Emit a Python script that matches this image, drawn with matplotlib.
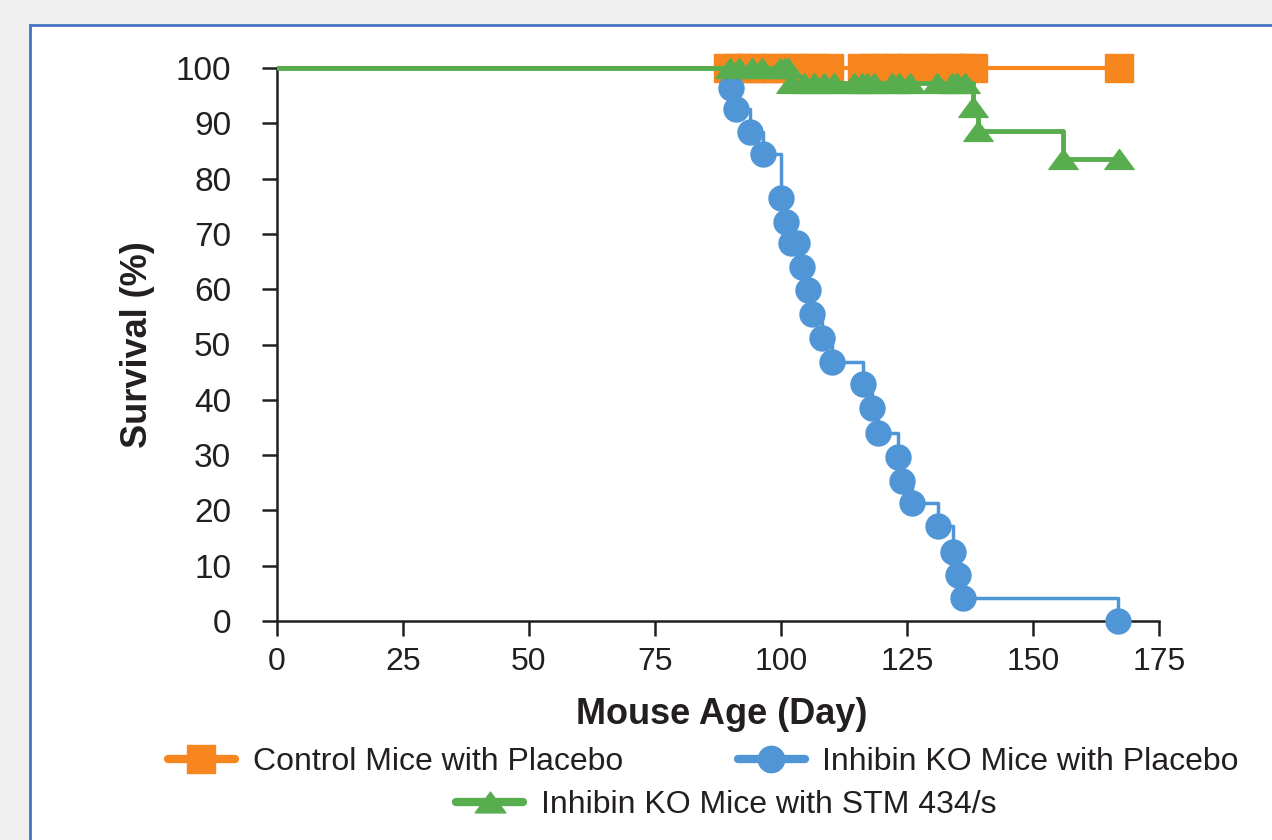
import matplotlib.pyplot as plt
from matplotlib.lines import Line2D
from matplotlib.patches import Rectangle
from matplotlib.path import Path

plt.rcParams['font.family'] = ['Liberation Sans', 'DejaVu Sans']

# survival data (day, % surviving)
control_days = [89.5, 91.5, 94, 96.5, 99, 101.5, 104, 106.5, 109.5, 116, 118.5, 121,
                123.5, 126, 128.5, 131, 133.5, 136, 138, 167]
control_surv = [100] * 20

ko_days = [90.1, 91.1, 93.8, 96.4, 100.0, 101.0, 102.0, 103.2, 104.2, 105.4, 106.2, 108.1,
           110.1, 116.3, 118.1, 119.2, 123.2, 124.0, 126.0, 131.2, 134.1, 135.1, 136.1, 166.9]
ko_surv = [96.4, 92.6, 88.4, 84.4, 76.5, 72.2, 68.4, 68.4, 64.0, 59.9, 55.5, 51.2,
           46.8, 42.9, 38.5, 34.0, 29.7, 25.3, 21.3, 17.2, 12.5, 8.3, 4.2, 0.0]

stm_days = [89.9, 91.7, 94.2, 96.2, 99.8, 100.8, 101.4,
            102.0, 104.5, 106.5, 108.5, 110.5, 114.5, 116.0, 117.0, 118.5, 122.0, 123.5,
            125.5, 131.0, 134.0, 135.0, 136.5,
            138.0, 139.0, 156.0, 167.0]
stm_surv = [100] * 7 + [97.2] * 16 + [93.0, 88.6, 83.5, 83.5]

labels = ['Control Mice with Placebo', 'Inhibin KO Mice with Placebo',
          'Inhibin KO Mice with STM 434/s']

ORANGE = '#F8861E'
BLUE = '#5096D6'
GREEN = '#58AE4F'
INK = '#231f20'

# flattened triangle like the original
tri = Path([(0, 0.68), (-1, -0.68), (1, -0.68), (0, 0.68)],
           [Path.MOVETO, Path.LINETO, Path.LINETO, Path.CLOSEPOLY])

fig = plt.figure(figsize=(12.72, 8.4), dpi=100, facecolor='#f0f0f0')
fig.patches.append(Rectangle((30 / 1272, -0.05), 1.1, 1 - 25 / 840 + 0.05,
                             transform=fig.transFigure, facecolor='white',
                             edgecolor='#4472c4', lw=2, zorder=-5))

ax = fig.add_axes([277 / 1272, 1 - 621 / 840, 882 / 1272, 553 / 840])
ax.set_facecolor('none')


def km(x, y, color, marker, ms, lw, z):
    xs = [0] + x
    ys = [100] + y
    ax.plot(xs, ys, drawstyle='steps-post', color=color, lw=lw, zorder=z,
            clip_on=False, solid_capstyle='butt')
    ax.plot(x, y, ls='none', marker=marker, ms=ms, color=color, mec=color,
            zorder=z + 0.5, clip_on=False)


km(control_days, control_surv, ORANGE, 's', 20, 3, 3)
km(ko_days, ko_surv, BLUE, 'o', 18, 2.5, 4)
km(stm_days, stm_surv, GREEN, tri, 21, 3.5, 5)

ax.set_xlim(0, 175)
ax.set_ylim(0, 100)
ax.set_xticks(range(0, 176, 25))
ax.set_yticks(range(0, 101, 10))
for s in ['top', 'right']:
    ax.spines[s].set_visible(False)
for s in ['left', 'bottom']:
    ax.spines[s].set_linewidth(1.8)
    ax.spines[s].set_color(INK)
ax.tick_params(axis='both', direction='out', length=11, width=1.8, color=INK,
               labelcolor=INK)
ax.tick_params(axis='y', labelsize=24, pad=22)
ax.tick_params(axis='x', labelsize=23, pad=8)

ax.set_ylabel('Survival (%)', fontsize=26, fontweight='bold', color=INK)
ax.yaxis.set_label_coords(-0.138, 0.5)
ax.set_xlabel('Mouse Age (Day)', fontsize=26, fontweight='bold', color=INK)
ax.xaxis.set_label_coords(0.5045, -0.137)

handles = [
    Line2D([], [], color=ORANGE, lw=6, marker='s', ms=20, solid_capstyle='round'),
    Line2D([], [], color=BLUE, lw=6, marker='o', ms=19, solid_capstyle='round'),
    Line2D([], [], color=GREEN, lw=6, marker=tri, ms=22, solid_capstyle='round'),
]
kw = dict(frameon=False, fontsize=23, handlelength=2.1, handletextpad=0.55,
          labelcolor=INK, loc='center')
fig.legend(handles=handles[:2], labels=labels[:2], ncol=2, columnspacing=3.6,
           bbox_to_anchor=(0.553, 0.093), **kw)
fig.legend(handles=handles[2:], labels=labels[2:], bbox_to_anchor=(0.571, 0.042), **kw)

fig.savefig('out.png', dpi=100, facecolor=fig.get_facecolor())
